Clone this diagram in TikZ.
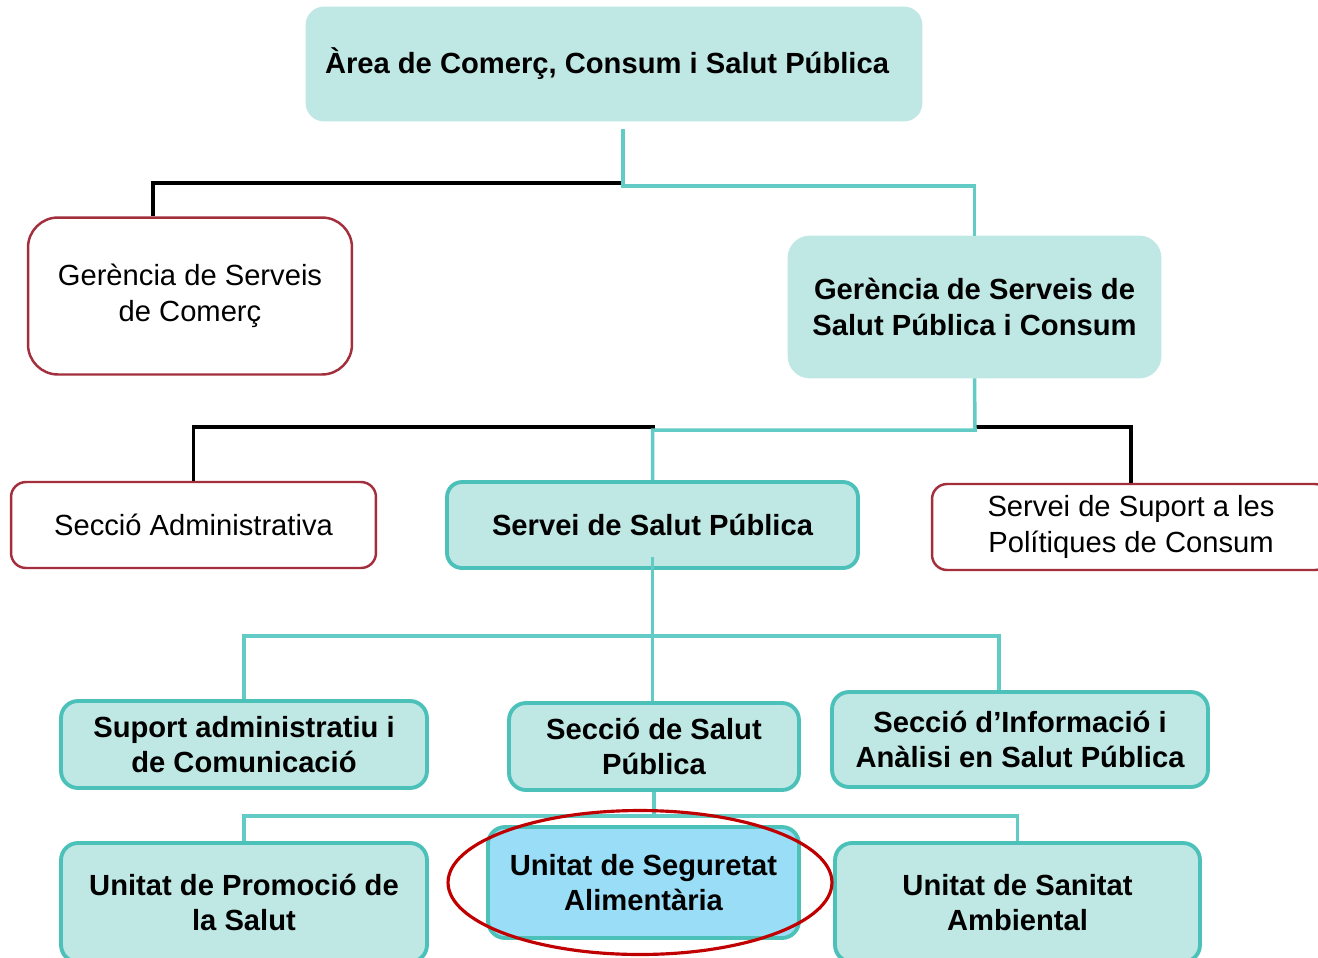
\documentclass[tikz,border=0pt]{standalone}
\usepackage{fontspec}
\setmainfont{Liberation Sans}
\definecolor{tfill}{RGB}{191,232,229}
\definecolor{tborder}{RGB}{75,193,186}
\definecolor{tline}{RGB}{98,203,197}
\definecolor{rborder}{RGB}{163,46,60}
\definecolor{bfill}{RGB}{153,222,246}
\definecolor{ellred}{RGB}{192,0,0}
\tikzset{
  base/.style={rectangle, align=center, inner sep=0pt},
  tealplain/.style={base, fill=tfill, draw=tfill, line width=0.5pt, font={\fontsize{16.6}{20.4}\selectfont\bfseries}},
  tealbox/.style={base, fill=tfill, draw=tborder, line width=2.2pt, rounded corners=0.34cm, font={\fontsize{16.6}{20.4}\selectfont\bfseries}},
  bluebox/.style={base, fill=bfill, draw=tborder, line width=2.2pt, rounded corners=0.34cm, font={\fontsize{16.6}{20.4}\selectfont\bfseries}},
  redbox/.style={base, fill=white, draw=rborder, line width=1.4pt, font={\fontsize{16.6}{20.4}\selectfont}},
  tl/.style={draw=tline, line width=2pt},
  bl/.style={draw=black, line width=1.9pt},
  ell/.style={draw=ellred, line width=1.8pt}
}
\begin{document}
\begin{tikzpicture}[x=0.02cm, y=-0.02cm]
\fill[white] (0,0) rectangle (1318,957);
\useasboundingbox (0,0) rectangle (1318,957);

% nodes
\node[tealplain, minimum width=12.32cm, minimum height=2.28cm, rounded corners=0.36cm] (top) at (614,64) {\hspace*{-0.28cm}Àrea de Comerç, Consum i Salut Pública};
\node[redbox, minimum width=6.48cm, minimum height=3.14cm, rounded corners=0.6cm] (gc) at (190,296) {Gerència de Serveis\\de Comerç};
\node[tealplain, minimum width=7.46cm, minimum height=2.84cm, rounded corners=0.44cm] (gspc) at (974.5,307) {Gerència de Serveis de\\Salut Pública i Consum};
\node[redbox, minimum width=7.3cm, minimum height=1.72cm, rounded corners=0.3cm] (sa) at (193.5,525) {Secció Administrativa};
\node[tealbox, minimum width=8.22cm, minimum height=1.72cm, rounded corners=0.3cm] (ssp) at (652.5,525) {Servei de Salut Pública};
\node[redbox, minimum width=7.96cm, minimum height=1.72cm, rounded corners=0.3cm] (ssc) at (1131,527) {Servei de Suport a les\\Polítiques de Consum};
\node[tealbox, minimum width=7.32cm, minimum height=1.74cm] (sadm) at (244,744.5) {Suport administratiu i\\de Comunicació};
\node[tealbox, minimum width=5.8cm, minimum height=1.74cm] (secsp) at (654,746.5) {Secció de Salut\\Pública};
\node[tealbox, minimum width=7.52cm, minimum height=1.9cm] (secinf) at (1020,739.5) {Secció d’Informació i\\Anàlisi en Salut Pública};
\node[tealbox, minimum width=7.32cm, minimum height=2.38cm] (upro) at (244,902.5) {Unitat de Promoció de\\la Salut};
\node[bluebox, minimum width=6.22cm, minimum height=2.22cm] (useg) at (643.5,882.5) {Unitat de Seguretat\\Alimentària};
\node[tealbox, minimum width=7.3cm, minimum height=2.38cm] (usan) at (1017.5,902.5) {Unitat de Sanitat\\Ambiental};

% connectors
\coordinate (j1) at (623,186);
\coordinate (k1) at (623,183);
\draw[bl] (k1) -| ([xshift=-0.74cm]gc.north);
\draw[tl] ([yshift=-0.16cm]top.south -| j1) -- (j1) -| (gspc.north);

\coordinate (j2) at (975,430);
\coordinate (k2a) at (655,427);
\coordinate (k2b) at (975,427);
\draw[bl] (k2a) -| (sa.north);
\draw[bl] (k2b) -| (ssc.north);
\draw[tl] (gspc.south) -- (j2) -| (ssp.north);

\coordinate (j3) at (652,636);
\draw[tl] ([yshift=0.26cm]ssp.south) -- (ssp.south |- secsp.north);
\draw[tl] (sadm.north) |- (j3) -| ([xshift=-0.42cm]secinf.north);

\coordinate (j4) at (654,816);
\draw[tl] (secsp.south) -- (j4);
\draw[tl] (upro.north) |- (j4) -| (usan.north);

% highlight
\draw[ell] ([xshift=-0.07cm]useg.center) ellipse [x radius=3.84cm, y radius=1.44cm];
\end{tikzpicture}
\end{document}
